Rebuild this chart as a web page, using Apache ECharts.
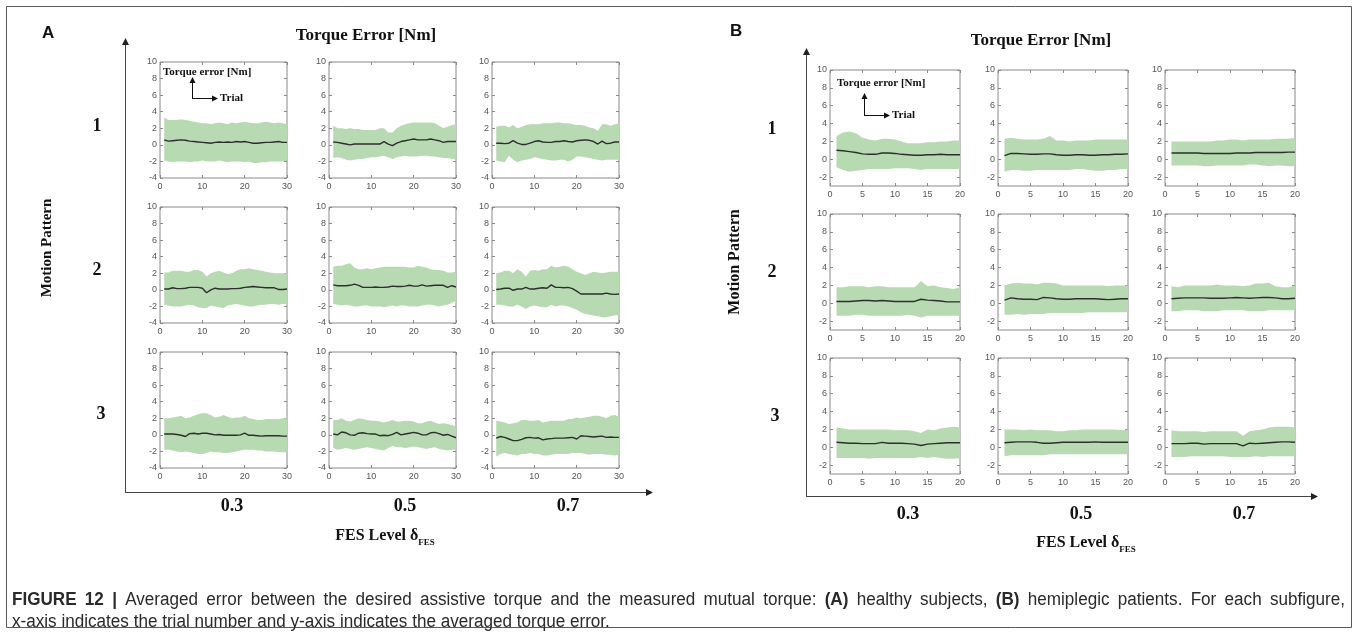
<!DOCTYPE html>
<html>
<head>
<meta charset="utf-8">
<script src="https://cdn.jsdelivr.net/npm/echarts@6/dist/echarts.min.js"></script>
<style>
  html, body { margin: 0; padding: 0; background: #ffffff; }
  #chart { width: 1358px; height: 635px; }
</style>
</head>
<body>
<div id="chart"></div>
<script>
// ---- Labels ----
const fesLevels = ['0.3', '0.5', '0.7'];
const motionPatterns = ['1', '2', '3'];
const yTicksHealthy = [-4, -2, 0, 2, 4, 6, 8, 10];
const yTicksPatient = [-2, 0, 2, 4, 6, 8, 10];
const captionLines = [
  'FIGURE 12 | Averaged error between the desired assistive torque and the measured mutual torque: (A) healthy subjects, (B) hemiplegic patients. For each subfigure,',
  'x-axis indicates the trial number and y-axis indicates the averaged torque error.'
];
const captionBoldWords = ['FIGURE', '12', '|', '(A)', '(B)'];

// ---- (A) healthy subjects: 30 trials, averaged torque error [Nm] ----
// pattern 1, FES 0.3
const a_p1_f03_mean = [0.6,0.45,0.5,0.55,0.6,0.55,0.45,0.4,0.35,0.3,0.25,0.2,0.3,0.35,0.3,0.35,0.3,0.4,0.35,0.4,0.3,0.2,0.2,0.25,0.3,0.3,0.35,0.4,0.3,0.3];
const a_p1_f03_hi   = [3.3,3.0,3.0,3.0,3.1,3.0,2.9,2.8,2.7,2.6,2.6,2.5,2.6,2.7,2.6,2.5,2.7,2.6,2.7,2.8,2.7,2.6,2.6,2.7,2.8,2.7,2.6,2.7,2.6,2.5];
const a_p1_f03_lo   = [-1.9,-2.0,-2.1,-2.0,-2.0,-2.0,-2.1,-2.0,-2.0,-1.9,-2.0,-2.0,-2.0,-1.9,-2.0,-2.1,-2.0,-2.0,-2.0,-2.1,-2.0,-2.2,-2.2,-2.1,-2.1,-2.0,-2.0,-2.0,-2.0,-1.9];
// pattern 1, FES 0.5
const a_p1_f05_mean = [0.35,0.3,0.2,0.1,0.0,0.1,0.1,0.1,0.1,0.1,0.1,0.1,0.4,0.1,-0.1,0.2,0.4,0.5,0.6,0.7,0.6,0.6,0.6,0.7,0.6,0.5,0.3,0.4,0.4,0.4];
const a_p1_f05_hi   = [2.3,2.0,2.0,1.9,2.0,1.9,1.9,1.8,1.8,1.8,1.8,2.0,2.0,1.5,1.5,2.0,2.3,2.5,2.6,2.7,2.7,2.7,2.7,2.7,2.6,2.3,2.0,2.2,2.4,2.5];
const a_p1_f05_lo   = [-1.6,-1.5,-1.6,-1.8,-1.9,-1.8,-1.7,-1.7,-1.6,-1.5,-1.5,-1.4,-1.3,-1.5,-1.7,-1.5,-1.4,-1.3,-1.4,-1.4,-1.4,-1.3,-1.3,-1.4,-1.4,-1.5,-1.6,-1.6,-1.7,-1.7];
// pattern 1, FES 0.7
const a_p1_f07_mean = [0.2,0.2,0.15,0.2,0.5,0.2,0.05,0.05,0.2,0.4,0.5,0.35,0.3,0.3,0.4,0.4,0.5,0.4,0.35,0.5,0.55,0.6,0.55,0.4,0.1,0.45,0.15,0.2,0.35,0.35];
const a_p1_f07_hi   = [2.2,2.3,2.3,2.1,2.4,2.0,2.2,2.4,2.5,2.5,2.5,2.6,2.6,2.6,2.7,2.7,2.6,2.6,2.5,2.4,2.4,2.3,2.1,2.0,1.7,2.5,2.5,2.3,2.5,2.6];
const a_p1_f07_lo   = [-1.9,-2.0,-2.1,-1.3,-1.8,-2.1,-1.9,-1.8,-1.7,-1.5,-1.6,-1.7,-1.8,-1.9,-1.9,-1.8,-1.8,-2.0,-1.8,-1.4,-1.4,-1.5,-1.6,-1.7,-1.8,-1.9,-1.8,-1.8,-1.8,-1.8];
// pattern 2, FES 0.3
const a_p2_f03_mean = [0.1,0.1,0.25,0.15,0.15,0.2,0.3,0.3,0.3,0.2,-0.35,0.0,0.2,0.1,0.1,0.1,0.15,0.15,0.2,0.3,0.35,0.4,0.35,0.3,0.25,0.25,0.25,0.05,0.05,0.1];
const a_p2_f03_hi   = [2.1,2.1,2.3,2.3,2.3,2.2,2.2,2.4,2.4,2.2,1.6,2.0,2.2,2.3,2.1,1.9,2.0,2.3,2.5,2.5,2.6,2.5,2.4,2.3,2.2,2.1,2.0,2.0,2.0,2.0];
const a_p2_f03_lo   = [-1.8,-1.9,-2.0,-2.0,-2.0,-1.9,-1.8,-1.9,-2.1,-2.2,-2.2,-1.9,-2.0,-2.1,-2.2,-1.9,-1.8,-1.7,-1.8,-1.9,-2.0,-2.0,-1.9,-1.8,-1.8,-1.7,-1.7,-1.8,-1.7,-1.7];
// pattern 2, FES 0.5
const a_p2_f05_mean = [0.6,0.5,0.5,0.5,0.55,0.7,0.55,0.3,0.3,0.3,0.35,0.3,0.3,0.35,0.45,0.4,0.4,0.45,0.55,0.45,0.45,0.6,0.45,0.5,0.55,0.55,0.55,0.3,0.5,0.35];
const a_p2_f05_hi   = [2.8,2.9,2.9,3.1,3.2,2.7,2.5,2.5,2.6,2.5,2.6,2.7,2.8,2.8,2.8,2.8,2.8,2.8,2.7,2.7,2.9,2.8,2.7,2.5,2.4,2.4,2.3,2.1,2.1,2.2];
const a_p2_f05_lo   = [-1.7,-1.8,-1.9,-1.8,-1.9,-2.0,-2.0,-1.9,-1.9,-2.0,-2.0,-2.0,-2.1,-2.0,-1.9,-2.0,-1.9,-1.9,-2.0,-2.0,-2.0,-1.9,-1.8,-1.8,-1.9,-2.0,-1.9,-1.8,-1.6,-1.3];
// pattern 2, FES 0.7
const a_p2_f07_mean = [0.05,0.1,0.2,0.2,-0.05,0.1,0.1,0.3,0.1,0.1,0.2,0.25,0.2,0.6,0.3,0.3,0.25,0.3,0.15,-0.15,-0.5,-0.5,-0.5,-0.5,-0.5,-0.5,-0.4,-0.5,-0.55,-0.5];
const a_p2_f07_hi   = [2.0,2.1,2.3,2.3,2.0,2.5,2.2,1.6,2.3,2.4,2.3,2.5,2.5,2.9,2.7,2.8,2.9,2.8,2.5,2.2,2.0,1.8,2.0,2.2,2.1,2.0,2.1,2.2,2.2,2.2];
const a_p2_f07_lo   = [-1.8,-1.8,-1.9,-2.0,-2.0,-1.8,-2.0,-2.3,-2.0,-1.9,-2.0,-2.1,-2.1,-1.8,-2.0,-1.9,-1.9,-2.0,-2.2,-2.4,-2.7,-2.9,-3.0,-3.1,-3.2,-3.3,-3.3,-3.2,-3.1,-3.0];
// pattern 3, FES 0.3
const a_p3_f03_mean = [0.1,0.1,0.1,0.05,-0.05,-0.2,0.15,0.2,0.1,0.2,0.2,0.1,0.0,0.05,-0.05,-0.05,-0.05,-0.05,0.0,0.2,-0.05,-0.05,-0.1,-0.15,-0.1,-0.1,-0.1,-0.1,-0.15,-0.15];
const a_p3_f03_hi   = [2.0,2.0,2.1,2.2,2.3,2.0,2.1,2.3,2.5,2.6,2.6,2.4,2.1,2.2,2.4,2.2,2.0,2.1,2.1,2.3,2.0,1.9,1.8,1.8,1.9,1.9,1.9,1.9,2.0,2.0];
const a_p3_f03_lo   = [-1.8,-1.8,-1.9,-2.0,-2.1,-2.0,-2.1,-2.2,-2.3,-2.3,-2.2,-2.0,-2.1,-2.1,-2.2,-2.2,-2.1,-2.0,-1.9,-1.8,-1.8,-1.8,-1.9,-1.9,-2.0,-2.0,-2.0,-2.1,-2.1,-2.1];
// pattern 3, FES 0.5
const a_p3_f05_mean = [0.1,0.0,0.35,0.25,0.0,-0.05,0.2,0.25,0.15,0.1,0.1,-0.1,-0.05,-0.1,0.05,0.3,0.0,0.1,0.2,0.3,0.2,0.0,0.0,0.25,0.3,0.15,-0.05,0.05,-0.15,-0.35];
const a_p3_f05_hi   = [1.8,1.8,2.0,1.7,1.6,1.8,2.0,1.9,1.8,1.7,1.7,1.6,1.5,1.6,1.8,1.6,1.6,1.7,1.7,1.6,1.4,1.4,1.6,1.7,1.5,1.3,1.4,1.3,1.2,1.0];
const a_p3_f05_lo   = [-1.6,-1.8,-1.7,-1.6,-1.7,-1.8,-1.7,-1.6,-1.5,-1.6,-1.7,-1.8,-1.9,-1.6,-1.3,-1.5,-1.5,-1.6,-1.5,-1.4,-1.5,-1.6,-1.7,-1.6,-1.5,-1.7,-1.8,-1.9,-1.8,-1.8];
// pattern 3, FES 0.7
const a_p3_f07_mean = [-0.4,-0.2,-0.3,-0.5,-0.7,-0.7,-0.55,-0.35,-0.3,-0.4,-0.35,-0.6,-0.5,-0.45,-0.4,-0.4,-0.4,-0.35,-0.3,-0.5,-0.1,-0.15,-0.2,-0.25,-0.2,-0.15,-0.3,-0.25,-0.3,-0.3];
const a_p3_f07_hi   = [1.7,1.6,1.5,1.3,1.4,1.5,1.8,1.8,1.7,1.7,1.8,1.5,1.6,1.7,1.7,1.7,1.7,1.9,1.9,2.1,2.0,2.1,2.2,2.3,2.3,2.2,2.0,2.3,2.4,2.2];
const a_p3_f07_lo   = [-2.6,-2.3,-2.2,-2.3,-2.4,-2.5,-2.3,-2.3,-2.2,-2.3,-2.3,-2.5,-2.5,-2.4,-2.3,-2.3,-2.3,-2.3,-2.2,-2.2,-2.2,-2.3,-2.4,-2.3,-2.3,-2.3,-2.4,-2.4,-2.5,-2.4];

// ---- (B) hemiplegic patients: 20 trials, averaged torque error [Nm] ----
const b_p1_f03_mean = [1.0,0.95,0.85,0.75,0.6,0.55,0.55,0.7,0.7,0.65,0.55,0.5,0.45,0.45,0.5,0.5,0.55,0.5,0.5,0.5];
const b_p1_f03_hi   = [2.6,3.0,3.1,2.9,2.4,2.2,2.1,2.3,2.3,2.2,2.0,1.8,1.8,1.8,1.9,1.9,2.0,2.0,2.1,2.1];
const b_p1_f03_lo   = [-0.9,-1.2,-1.4,-1.3,-1.2,-1.1,-1.1,-1.1,-1.1,-1.0,-1.0,-1.0,-1.1,-1.2,-1.1,-1.1,-1.1,-1.1,-1.1,-1.1];
const b_p1_f05_mean = [0.4,0.65,0.65,0.6,0.55,0.55,0.6,0.6,0.5,0.45,0.45,0.5,0.5,0.45,0.45,0.5,0.5,0.55,0.55,0.6];
const b_p1_f05_hi   = [2.3,2.4,2.3,2.2,2.2,2.2,2.3,2.6,2.1,2.1,2.0,2.1,2.1,2.1,2.2,2.2,2.2,2.2,2.2,2.2];
const b_p1_f05_lo   = [-1.4,-1.2,-1.2,-1.3,-1.3,-1.2,-1.2,-1.2,-1.2,-1.2,-1.2,-1.1,-1.1,-1.2,-1.3,-1.3,-1.2,-1.2,-1.1,-1.1];
const b_p1_f07_mean = [0.7,0.7,0.7,0.7,0.7,0.65,0.65,0.65,0.65,0.65,0.7,0.7,0.7,0.75,0.75,0.75,0.75,0.75,0.8,0.8];
const b_p1_f07_hi   = [2.0,2.0,2.0,2.0,2.0,2.0,2.0,2.1,2.1,2.2,2.2,2.1,2.2,2.2,2.2,2.2,2.3,2.3,2.3,2.4];
const b_p1_f07_lo   = [-0.7,-0.7,-0.7,-0.7,-0.7,-0.8,-0.8,-0.7,-0.7,-0.7,-0.7,-0.7,-0.6,-0.6,-0.7,-0.8,-0.7,-0.7,-0.8,-0.8];
const b_p2_f03_mean = [0.2,0.2,0.2,0.25,0.3,0.3,0.25,0.3,0.25,0.2,0.2,0.2,0.2,0.45,0.35,0.3,0.25,0.15,0.15,0.15];
const b_p2_f03_hi   = [1.8,1.8,1.9,1.9,1.9,1.8,1.9,1.9,1.8,1.8,1.8,1.8,1.8,2.5,1.9,2.0,1.8,1.7,1.6,1.8];
const b_p2_f03_lo   = [-1.4,-1.4,-1.4,-1.3,-1.3,-1.4,-1.4,-1.4,-1.4,-1.4,-1.4,-1.3,-1.4,-1.6,-1.4,-1.4,-1.4,-1.4,-1.4,-1.4];
const b_p2_f05_mean = [0.35,0.6,0.5,0.45,0.45,0.4,0.65,0.6,0.5,0.45,0.45,0.5,0.5,0.5,0.5,0.45,0.4,0.45,0.5,0.5];
const b_p2_f05_hi   = [2.0,2.2,2.3,2.2,2.2,2.1,2.3,2.3,2.2,2.0,2.0,2.0,2.0,2.0,2.0,2.0,1.9,2.0,2.0,2.0];
const b_p2_f05_lo   = [-1.3,-1.3,-1.2,-1.3,-1.2,-1.2,-1.2,-1.1,-1.1,-1.1,-1.1,-1.1,-1.1,-1.0,-1.0,-1.0,-1.0,-1.0,-1.0,-1.0];
const b_p2_f07_mean = [0.5,0.55,0.6,0.6,0.6,0.6,0.55,0.55,0.55,0.6,0.65,0.6,0.55,0.6,0.65,0.65,0.6,0.5,0.5,0.55];
const b_p2_f07_hi   = [1.9,1.8,2.0,2.0,2.0,2.0,2.0,2.1,2.0,2.0,2.0,1.9,2.0,2.2,2.2,2.3,1.9,1.8,1.8,2.0];
const b_p2_f07_lo   = [-0.9,-0.9,-0.8,-0.8,-0.8,-0.9,-0.9,-0.9,-0.8,-0.8,-0.8,-0.8,-0.9,-0.9,-0.9,-0.8,-0.8,-0.8,-0.8,-0.8];
const b_p3_f03_mean = [0.55,0.5,0.45,0.45,0.4,0.4,0.4,0.55,0.45,0.45,0.45,0.4,0.35,0.2,0.35,0.4,0.45,0.5,0.5,0.5];
const b_p3_f03_hi   = [2.2,2.1,2.0,2.0,2.0,2.0,2.0,2.0,2.0,1.9,1.9,1.9,1.8,1.6,2.0,1.9,2.1,2.2,2.3,2.2];
const b_p3_f03_lo   = [-1.2,-1.2,-1.2,-1.2,-1.2,-1.3,-1.2,-1.2,-1.2,-1.2,-1.2,-1.2,-1.2,-1.1,-1.2,-1.1,-1.2,-1.3,-1.3,-1.2];
const b_p3_f05_mean = [0.5,0.55,0.6,0.6,0.6,0.55,0.45,0.45,0.5,0.55,0.55,0.55,0.55,0.55,0.6,0.55,0.55,0.55,0.55,0.55];
const b_p3_f05_hi   = [2.0,2.0,2.0,1.9,2.0,1.9,1.9,1.9,1.8,1.8,1.9,1.9,2.0,2.0,2.0,2.0,2.0,2.0,1.9,2.0];
const b_p3_f05_lo   = [-1.0,-0.9,-0.9,-0.9,-0.9,-0.9,-0.9,-0.8,-0.8,-0.8,-0.8,-0.8,-0.8,-0.8,-0.8,-0.8,-0.8,-0.8,-0.8,-0.8];
const b_p3_f07_mean = [0.4,0.4,0.4,0.45,0.45,0.35,0.4,0.4,0.4,0.4,0.4,0.15,0.45,0.4,0.45,0.5,0.55,0.6,0.6,0.55];
const b_p3_f07_hi   = [1.9,1.8,1.8,1.8,1.8,1.7,1.8,1.8,1.8,1.8,1.8,1.3,1.8,1.9,2.0,2.2,2.3,2.3,2.3,2.2];
const b_p3_f07_lo   = [-1.1,-1.1,-1.1,-1.0,-1.0,-1.0,-1.0,-1.0,-1.0,-1.1,-1.1,-1.1,-1.1,-1.0,-1.1,-1.0,-1.0,-1.0,-1.0,-1.0];

// ---- panel tables (rows = motion pattern, cols = FES level) ----
const healthyPanels = [
  [{mean: a_p1_f03_mean, hi: a_p1_f03_hi, lo: a_p1_f03_lo}, {mean: a_p1_f05_mean, hi: a_p1_f05_hi, lo: a_p1_f05_lo}, {mean: a_p1_f07_mean, hi: a_p1_f07_hi, lo: a_p1_f07_lo}],
  [{mean: a_p2_f03_mean, hi: a_p2_f03_hi, lo: a_p2_f03_lo}, {mean: a_p2_f05_mean, hi: a_p2_f05_hi, lo: a_p2_f05_lo}, {mean: a_p2_f07_mean, hi: a_p2_f07_hi, lo: a_p2_f07_lo}],
  [{mean: a_p3_f03_mean, hi: a_p3_f03_hi, lo: a_p3_f03_lo}, {mean: a_p3_f05_mean, hi: a_p3_f05_hi, lo: a_p3_f05_lo}, {mean: a_p3_f07_mean, hi: a_p3_f07_hi, lo: a_p3_f07_lo}]
];
const patientPanels = [
  [{mean: b_p1_f03_mean, hi: b_p1_f03_hi, lo: b_p1_f03_lo}, {mean: b_p1_f05_mean, hi: b_p1_f05_hi, lo: b_p1_f05_lo}, {mean: b_p1_f07_mean, hi: b_p1_f07_hi, lo: b_p1_f07_lo}],
  [{mean: b_p2_f03_mean, hi: b_p2_f03_hi, lo: b_p2_f03_lo}, {mean: b_p2_f05_mean, hi: b_p2_f05_hi, lo: b_p2_f05_lo}, {mean: b_p2_f07_mean, hi: b_p2_f07_hi, lo: b_p2_f07_lo}],
  [{mean: b_p3_f03_mean, hi: b_p3_f03_hi, lo: b_p3_f03_lo}, {mean: b_p3_f05_mean, hi: b_p3_f05_hi, lo: b_p3_f05_lo}, {mean: b_p3_f07_mean, hi: b_p3_f07_hi, lo: b_p3_f07_lo}]
];

// ---- styling ----
const SERIF = '"Liberation Serif", "DejaVu Serif", serif';
const SANS = '"Liberation Sans", Arial, sans-serif';
const BAND = '#b8dab3';
const MEAN = '#2e2e2e';
const BOX = '#8a8a8a';
const TICKTXT = '#555555';

const layouts = {
  healthy: { lefts: [160, 329, 492], tops: [62, 207, 352], w: 127, h: 116,
             xMax: 30, xStep: 10, yMin: -4, yTicks: yTicksHealthy },
  patient: { lefts: [830, 998, 1165], tops: [70, 214, 358], w: 130, h: 116,
             xMax: 20, xStep: 5, yMin: -3, yTicks: yTicksPatient }
};

const option = {
  animation: false,
  backgroundColor: '#ffffff',
  grid: [], xAxis: [], yAxis: [], series: [],
  graphic: { elements: [] }
};

function addPanel(L, r, c, d) {
  const gi = option.grid.length;
  option.grid.push({ left: L.lefts[c], top: L.tops[r], width: L.w, height: L.h,
    show: true, borderColor: BOX, borderWidth: 1, backgroundColor: '#fff' });
  const tick = { show: true, inside: true, length: 3, lineStyle: { color: BOX, width: 1 } };
  const line = { show: false, onZero: false };
  const lbl = { fontSize: 9, color: TICKTXT, fontFamily: SANS };
  const xi = option.xAxis.length;
  option.xAxis.push({ type: 'value', gridIndex: gi, position: 'bottom', min: 0, max: L.xMax, interval: L.xStep,
    axisLine: line, axisTick: tick, splitLine: { show: false },
    axisLabel: Object.assign({ margin: 4 }, lbl) });
  option.xAxis.push({ type: 'value', gridIndex: gi, position: 'top', min: 0, max: L.xMax, interval: L.xStep,
    axisLine: line, axisTick: tick, splitLine: { show: false }, axisLabel: { show: false } });
  const yi = option.yAxis.length;
  option.yAxis.push({ type: 'value', gridIndex: gi, position: 'left', min: L.yMin, max: 10,
    axisLine: line, splitLine: { show: false },
    axisTick: Object.assign({ customValues: L.yTicks }, tick),
    axisLabel: Object.assign({ margin: 3, customValues: L.yTicks }, lbl) });
  option.yAxis.push({ type: 'value', gridIndex: gi, position: 'right', min: L.yMin, max: 10,
    axisLine: line, splitLine: { show: false },
    axisTick: Object.assign({ customValues: L.yTicks }, tick), axisLabel: { show: false } });

  const trial = d.mean.map((_, i) => i + 1);
  // shaded band between the lower and upper envelope, one polygon through the axis scales
  option.series.push({ type: 'custom', xAxisIndex: xi, yAxisIndex: yi, silent: true, clip: true,
    data: trial.map((t, i) => [t, d.lo[i], d.hi[i]]),
    encode: { x: 0, y: [1, 2] },
    renderItem: (params, api) => {
      if (params.dataIndex !== 0) return null;
      const upper = trial.map((t, i) => api.coord([t, d.hi[i]]));
      const lower = trial.map((t, i) => api.coord([t, d.lo[i]])).reverse();
      return { type: 'polygon', shape: { points: upper.concat(lower) },
               style: { fill: BAND, stroke: null } };
    } });
  option.series.push({ type: 'line', xAxisIndex: xi, yAxisIndex: yi,
    data: trial.map((t, i) => [t, d.mean[i]]), symbol: 'none', silent: true,
    lineStyle: { color: MEAN, width: 1.4 } });
}

healthyPanels.forEach((row, r) => row.forEach((d, c) => addPanel(layouts.healthy, r, c, d)));
patientPanels.forEach((row, r) => row.forEach((d, c) => addPanel(layouts.patient, r, c, d)));

// ---- annotations ----
const G = option.graphic.elements;
function txt(x, y, text, font, align, vAlign, extra, color) {
  G.push(Object.assign({ type: 'text', x: x, y: y, z: 100, silent: true,
    style: { text: text, font: font, fill: color || '#111', textAlign: align || 'center', align: align || 'center',
             textVerticalAlign: vAlign || 'middle', verticalAlign: vAlign || 'middle' } }, extra || {}));
}
function seg(x1, y1, x2, y2, color, w) {
  G.push({ type: 'line', z: 100, silent: true, shape: { x1: x1, y1: y1, x2: x2, y2: y2 },
    style: { stroke: color, lineWidth: w } });
}
function head(tipX, tipY, dir, size, color) {
  const s = size, h = size * 0.5;
  let pts;
  if (dir === 'up') pts = [[tipX, tipY], [tipX - h, tipY + s], [tipX + h, tipY + s]];
  else pts = [[tipX, tipY], [tipX - s, tipY - h], [tipX - s, tipY + h]];
  G.push({ type: 'polygon', z: 100, silent: true, shape: { points: pts }, style: { fill: color } });
}

// outer frame
G.push({ type: 'rect', z: 100, silent: true, shape: { x: 6.5, y: 6.5, width: 1345, height: 621 },
  style: { fill: 'none', stroke: '#5a5a5a', lineWidth: 1 } });

function drawFigureFrame(o) {
  txt(o.letterX, o.letterY, o.letter, 'bold 17px ' + SANS, 'left', 'middle');
  txt(o.titleX, o.titleY, 'Torque Error [Nm]', 'bold 17px ' + SERIF);
  // main axes with arrows
  seg(o.axX + 0.5, o.axY, o.axX + 0.5, o.axTop + 6, '#444', 1);
  head(o.axX + 0.5, o.axTop, 'up', 7, '#222');
  seg(o.axX, o.axY + 0.5, o.axRight - 6, o.axY + 0.5, '#444', 1);
  head(o.axRight, o.axY + 0.5, 'right', 7, '#222');
  // pattern labels
  motionPatterns.forEach((p, i) => txt(o.rowLabelX[i], o.rowLabelY[i], p, 'bold 18px ' + SERIF));
  txt(o.mpX, o.mpY, 'Motion Pattern', 'bold ' + o.mpSize + 'px ' + SERIF, 'center', 'middle', { rotation: Math.PI / 2 });
  // FES level labels
  fesLevels.forEach((f, i) => txt(o.colLabelX[i], o.colLabelY, f, 'bold 18px ' + SERIF));
  G.push({ type: 'text', x: o.fesX, y: o.fesY, z: 100, silent: true,
    style: { text: '{m|FES Level δ}{s|FES}', textAlign: 'center', align: 'center',
      textVerticalAlign: 'middle', verticalAlign: 'middle', fill: '#111',
      rich: { m: { font: 'bold 16px ' + SERIF, lineHeight: 22, verticalAlign: 'middle', fill: '#111' },
              s: { font: 'bold 9px ' + SERIF, lineHeight: 9, verticalAlign: 'bottom', fill: '#111' } } } });
  // inset axis legend
  txt(o.insX, o.insY, 'Torque error [Nm]', 'bold 11px ' + SERIF, 'left', 'middle');
  seg(o.arX + 0.5, o.arY, o.arX + 0.5, o.arTop + 5, '#111', 1);
  head(o.arX + 0.5, o.arTop, 'up', 6, '#111');
  seg(o.arX, o.arY + 0.5, o.arRight - 5, o.arY + 0.5, '#111', 1);
  head(o.arRight, o.arY + 0.5, 'right', 6, '#111');
  txt(o.arRight + 2, o.arY, 'Trial', 'bold 11px ' + SERIF, 'left', 'middle');
}

drawFigureFrame({ letter: 'A', letterX: 42, letterY: 33, titleX: 366, titleY: 36,
  axX: 125, axY: 492, axTop: 38, axRight: 653,
  rowLabelX: [97, 97, 101], rowLabelY: [126, 270, 414], mpX: 47, mpY: 248, mpSize: 15,
  colLabelX: [232, 405, 568], colLabelY: 506, fesX: 385, fesY: 536,
  insX: 163, insY: 72, arX: 192, arY: 98, arTop: 77, arRight: 218 });
drawFigureFrame({ letter: 'B', letterX: 730, letterY: 31, titleX: 1041, titleY: 41,
  axX: 806, axY: 496, axTop: 48, axRight: 1318,
  rowLabelX: [772, 772, 775], rowLabelY: [129, 272, 416], mpX: 735, mpY: 262, mpSize: 16,
  colLabelX: [908, 1081, 1244], colLabelY: 514, fesX: 1086, fesY: 543,
  insX: 837, insY: 83, arX: 864, arY: 115, arTop: 93, arRight: 890 });

// ---- caption: slightly condensed sans, first line justified to the frame width ----
const CAP_SIZE = 18, CAP_SQUEEZE = 0.95, CAP_LEFT = 12, CAP_RIGHT = 1345, CAP_COLOR = '#2a2a2a';
const measureCtx = document.createElement('canvas').getContext('2d');
function capFont(bold) { return (bold ? 'bold ' : '') + CAP_SIZE + 'px ' + SANS; }
function wordWidth(w, bold) { measureCtx.font = capFont(bold); return measureCtx.measureText(w).width * CAP_SQUEEZE; }
function captionWord(x, y, w, bold) {
  G.push({ type: 'text', x: x, y: y, z: 100, silent: true, scaleX: CAP_SQUEEZE, scaleY: 1,
    style: { text: w, font: capFont(bold), fill: CAP_COLOR, textAlign: 'left', align: 'left',
             textVerticalAlign: 'middle', verticalAlign: 'middle' } });
}
captionLines.forEach((line, li) => {
  const y = 600 + li * 22;
  const words = line.split(' ');
  const bolds = words.map(w => captionBoldWords.indexOf(w) >= 0);
  const widths = words.map((w, i) => wordWidth(w, bolds[i]));
  const space = wordWidth(' ', false);
  const total = widths.reduce((a, b) => a + b, 0);
  const justify = li < captionLines.length - 1;
  const gap = justify ? Math.max(space, (CAP_RIGHT - CAP_LEFT - total) / (words.length - 1)) : space;
  let x = CAP_LEFT;
  words.forEach((w, i) => { captionWord(x, y, w, bolds[i]); x += widths[i] + gap; });
});

const chart = echarts.init(document.getElementById('chart'), null, { renderer: 'canvas' });
chart.setOption(option);
</script>
</body>
</html>
